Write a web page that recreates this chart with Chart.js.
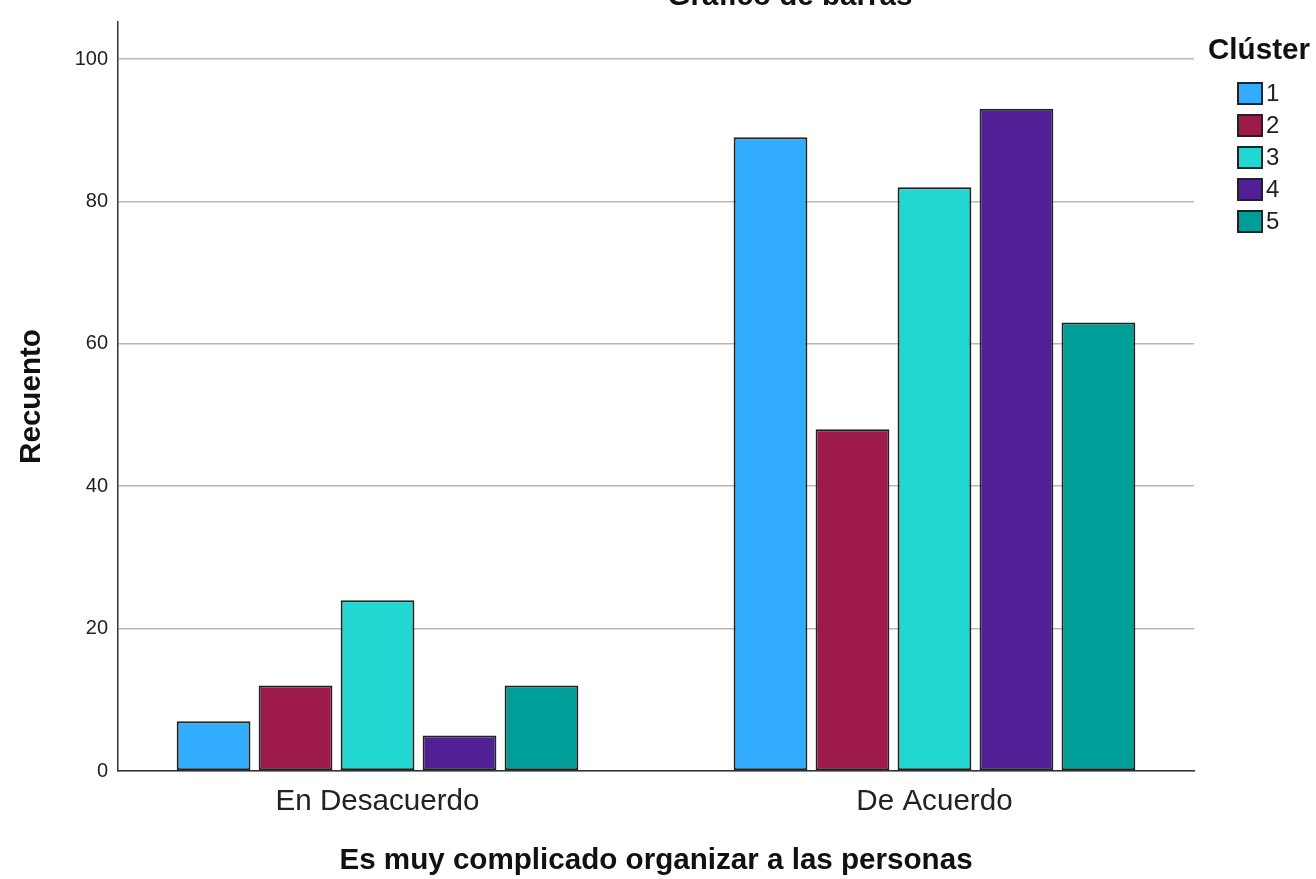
<!DOCTYPE html>
<html lang="es">
<head>
<meta charset="utf-8">
<title>Gráfico de barras</title>
<script src="https://cdn.jsdelivr.net/npm/chart.js@4.4.1/dist/chart.umd.min.js"></script>
<style>
  html, body { margin: 0; padding: 0; background: #fff; }
  body {
    width: 1316px; height: 879px; overflow: hidden; position: relative;
    font-family: "Liberation Sans", Arial, sans-serif;
  }
  #wrap { position: absolute; left: 0; top: 0; width: 1316px; height: 879px; }
  #chartTitle {
    position: absolute; left: 790px; top: -20px; transform: translateX(-50%);
    font-weight: bold; font-size: 29.6px; line-height: 30px; white-space: nowrap; color: #111;
  }
  #legend { position: absolute; left: 1208px; top: 34px; color: #111; }
  #legend .title { font-weight: bold; font-size: 29.6px; line-height: 30px; }
  #legend ul { list-style: none; margin: 13px 0 0 29px; padding: 0; }
  #legend li { display: flex; align-items: center; height: 32px; }
  #legend .box { width: 22px; height: 19px; border: 2px solid #222; }
  #legend .lbl { font-size: 24px; margin-left: 3px; color: #222; }
</style>
</head>
<body>
<div id="wrap">
  <canvas id="barChart" width="1316" height="879"></canvas>
</div>
<div id="chartTitle">Gráfico de barras</div>
<div id="legend"></div>

<script>
// datos
var categories = ["En Desacuerdo", "De Acuerdo"];
var clusters = ["1", "2", "3", "4", "5"];
var cluster1 = [7, 89];
var cluster2 = [12, 48];
var cluster3 = [24, 82];
var cluster4 = [5, 93];
var cluster5 = [12, 63];
var yTicks = [0, 20, 40, 60, 80, 100];

var clusterColors = ["#31acff", "#9e1a4b", "#22d7d2", "#512096", "#009e99"];
var fontFamily = "'Liberation Sans', Arial, sans-serif";

document.addEventListener("DOMContentLoaded", function() {
  var ctx = document.getElementById("barChart").getContext("2d");
  var seriesValues = [cluster1, cluster2, cluster3, cluster4, cluster5];

  var datasets = clusters.map(function(name, i) {
    return {
      label: name,
      data: seriesValues[i].map(function(v, j) { return { x: j, y: v }; }),
      backgroundColor: clusterColors[i],
      borderColor: "#222",
      borderWidth: 2,
      borderSkipped: false,
      categoryPercentage: 0.736,
      barPercentage: 0.9
    };
  });

  var chart = new Chart(ctx, {
    type: "bar",
    data: { datasets: datasets },
    options: {
      responsive: false,
      animation: false,
      layout: { padding: { top: 20, right: 122, bottom: 0, left: 0 } },
      plugins: {
        legend: { display: false },
        title: { display: false },
        tooltip: { enabled: false }
      },
      scales: {
        x: {
          type: "linear",
          offset: false,
          min: -0.466,
          max: 1.466,
          afterBuildTicks: function(scale) {
            scale.ticks = categories.map(function(c, i) { return { value: i }; });
          },
          afterFit: function(scale) { scale.height = 108; },
          grid: { display: false, drawTicks: false, offset: false },
          border: { display: true, color: "#333", width: 1.5 },
          ticks: {
            callback: function(v) { return categories[v]; },
            font: { family: fontFamily, size: 29.6 },
            color: "#222",
            padding: 13,
            maxRotation: 0,
            autoSkip: false
          },
          title: {
            display: true,
            text: "Es muy complicado organizar a las personas",
            font: { family: fontFamily, size: 29.6, weight: "bold" },
            color: "#111",
            padding: { top: 0, bottom: 0 }
          }
        },
        y: {
          min: 0,
          max: 105.2,
          afterBuildTicks: function(scale) {
            scale.ticks = yTicks.map(function(v) { return { value: v }; });
          },
          afterFit: function(scale) { scale.width = 118; },
          grid: { color: "#b8b8b8", lineWidth: 1.5, drawTicks: false },
          border: { color: "#333", width: 1.5 },
          ticks: {
            font: { family: fontFamily, size: 20 },
            color: "#222",
            padding: 10
          },
          title: {
            display: true,
            text: "Recuento",
            font: { family: fontFamily, size: 29.6, weight: "bold" },
            color: "#111",
            padding: { top: 14, bottom: 0 }
          }
        }
      }
    }
  });

  // leyenda en HTML a partir de los datasets
  var legend = document.getElementById("legend");
  var html = '<div class="title">Clúster</div><ul>';
  chart.data.datasets.forEach(function(ds) {
    html += '<li><span class="box" style="background:' + ds.backgroundColor + '"></span>' +
            '<span class="lbl">' + ds.label + '</span></li>';
  });
  html += "</ul>";
  legend.innerHTML = html;
});
</script>
</body>
</html>
